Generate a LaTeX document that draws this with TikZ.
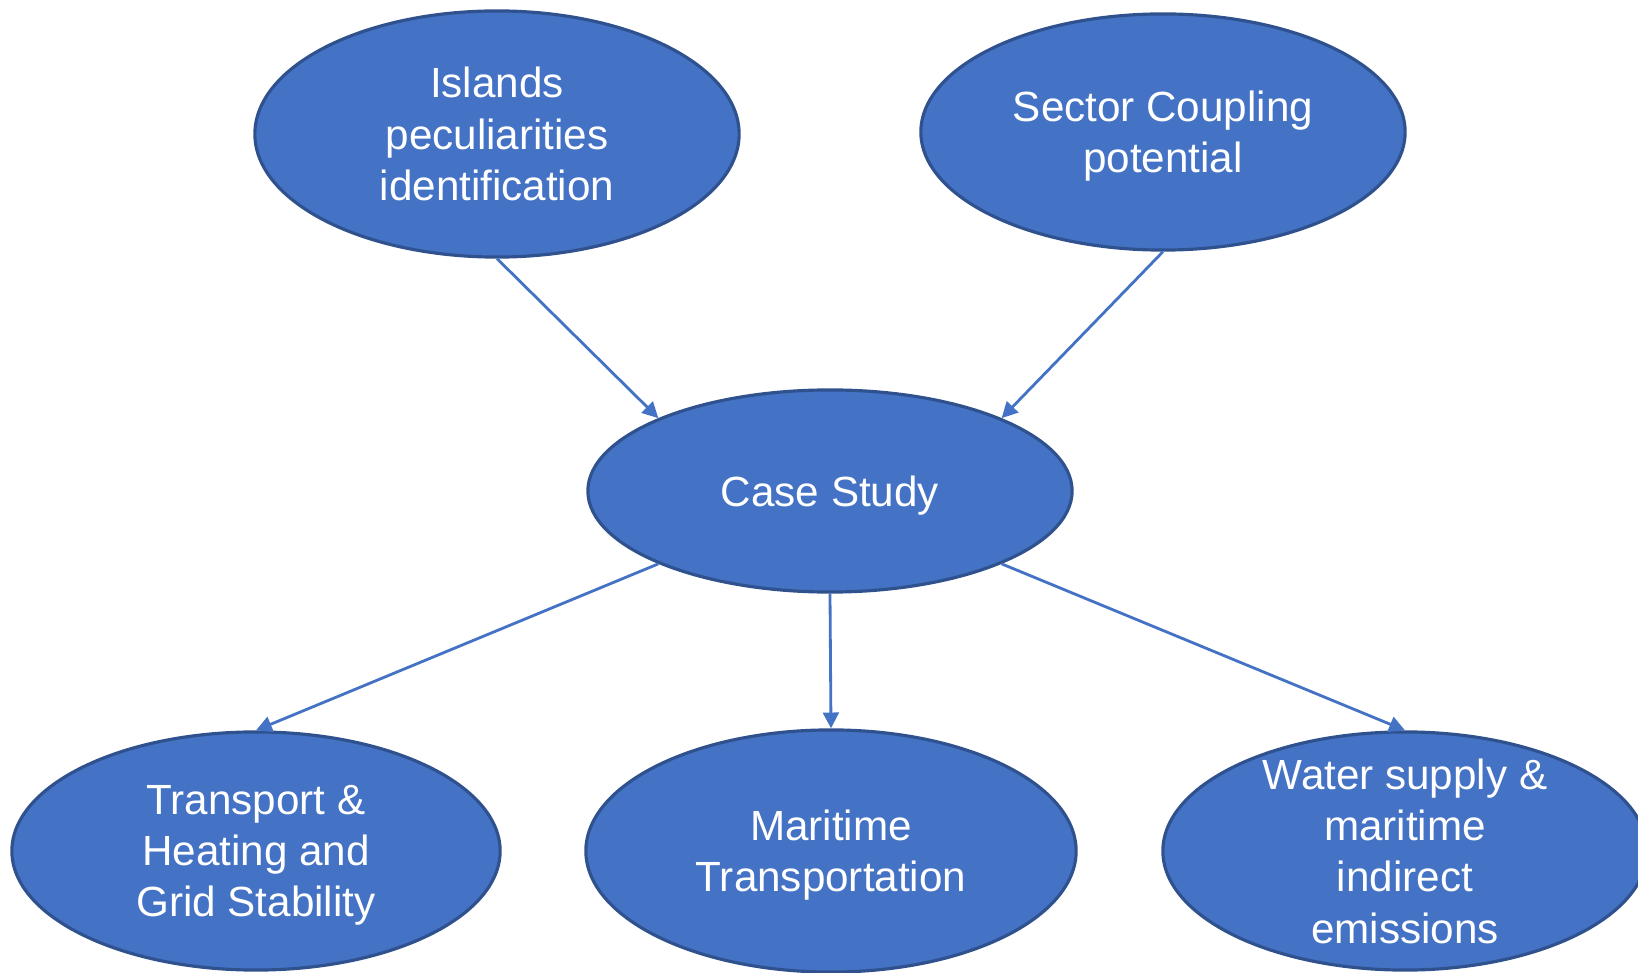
\documentclass[tikz,border=0pt]{standalone}
\usepackage{fontspec}
\setmainfont{Liberation Sans}
\usetikzlibrary{shapes.geometric,arrows.meta}
\definecolor{ovalblue}{HTML}{4472C4}
\definecolor{ovalline}{HTML}{2F528F}
\begin{document}
\begin{tikzpicture}[x=0.01cm,y=-0.01cm,line join=round,
		oval/.style={ellipse,fill=ovalblue,draw=ovalline,line width=0.9pt,text=white,align=center,inner sep=0pt,
			text depth=0pt,font=\fontsize{12}{14.6}\selectfont},
		link/.style={ovalblue,line width=0.8pt,-{Triangle[length=4.5pt,width=4.5pt]}}]
	%%%%%%%%% frame
	\useasboundingbox(0,0)rectangle(1638,973);
	\clip(0,0)rectangle(1638,973);
	%%%%%%%%% ovals
	\node[oval,minimum width=4.84cm,minimum height=2.46cm](isl)at(497,134){Islands\\peculiarities\\identification};
	\node[oval,minimum width=4.84cm,minimum height=2.36cm](sec)at(1163,132){Sector Coupling\\potential};
	\node[oval,minimum width=4.84cm,minimum height=2.02cm](case)at(830,491){Case Study};
	\node[oval,minimum width=4.88cm,minimum height=2.38cm](trp)at(256,851){Transport \&\\Heating and\\Grid Stability};
	\node[oval,minimum width=4.90cm,minimum height=2.42cm](mar)at(831,851){Maritime\\Transportation};
	\node[oval,minimum width=4.84cm,minimum height=2.38cm,inner ysep=-9pt](wat)at(1405,851){Water supply \&\\maritime\\indirect\\emissions};
	%%%%%%%%% arrows
	\draw[link](isl.south)--(case.157);
	\draw[link](sec.south)--(case.23);
	\draw[link](case.203)--(trp.north);
	\draw[link](case.south)--(mar.north);
	\draw[link](case.337)--(wat.north);
\end{tikzpicture}
\end{document}
